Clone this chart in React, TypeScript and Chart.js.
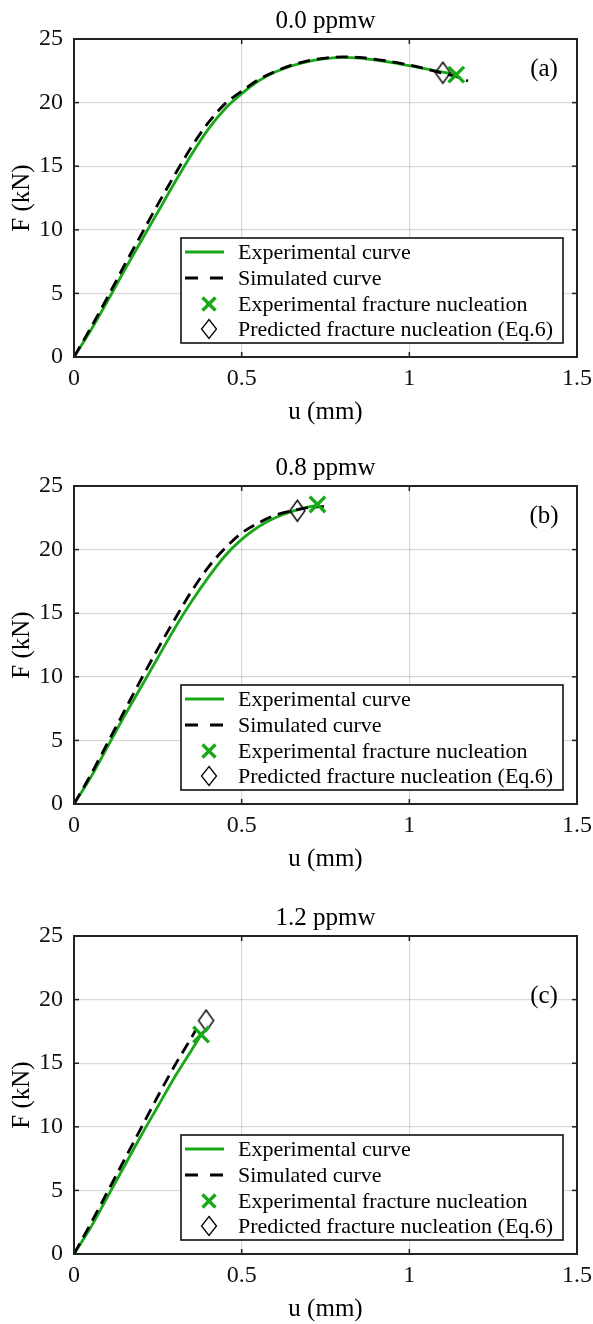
import React, { useEffect, useRef } from 'react';
import { Chart, registerables } from 'chart.js';

Chart.register(...registerables);

const GREEN = 'rgb(24,168,24)';
const FONT = "'Liberation Serif', 'Times New Roman', serif";

const X_TICKS = [0, 0.5, 1, 1.5];
const Y_TICKS = [0, 5, 10, 15, 20, 25];

const TITLES = ['0.0 ppmw', '0.8 ppmw', '1.2 ppmw'];
const LETTERS = ['(a)', '(b)', '(c)'];
const LEGEND_LABELS = [
  'Experimental curve',
  'Simulated curve',
  'Experimental fracture nucleation',
  'Predicted fracture nucleation (Eq.6)',
];

// Panel (a) 0.0 ppmw
const expA_u = [0, 0.05, 0.1, 0.15, 0.2, 0.25, 0.3, 0.35, 0.4, 0.45, 0.5, 0.55, 0.6, 0.65, 0.7, 0.75, 0.8, 0.85, 0.9, 0.95, 1.0, 1.05, 1.1, 1.14];
const expA_F = [0, 2.1, 4.4, 6.8, 9.1, 11.4, 13.7, 15.9, 17.9, 19.5, 20.7, 21.7, 22.4, 22.9, 23.25, 23.45, 23.55, 23.5, 23.35, 23.15, 22.9, 22.65, 22.4, 22.2];
const simA_u = [0, 0.05, 0.1, 0.15, 0.2, 0.25, 0.3, 0.35, 0.4, 0.45, 0.5, 0.55, 0.6, 0.65, 0.7, 0.75, 0.8, 0.85, 0.9, 0.95, 1.0, 1.05, 1.1, 1.15, 1.175];
const simA_F = [0, 2.3, 4.7, 7.2, 9.6, 12.0, 14.3, 16.5, 18.4, 19.9, 20.9, 21.8, 22.45, 22.95, 23.3, 23.5, 23.6, 23.55, 23.4, 23.2, 22.95, 22.65, 22.3, 21.95, 21.7];
const fracExpA = [1.14, 22.2];
const fracPredA = [1.1, 22.35];

// Panel (b) 0.8 ppmw
const expB_u = [0, 0.05, 0.1, 0.15, 0.2, 0.25, 0.3, 0.35, 0.4, 0.45, 0.5, 0.55, 0.6, 0.65, 0.7, 0.73];
const expB_F = [0, 2.1, 4.5, 6.9, 9.2, 11.5, 13.8, 15.9, 17.8, 19.5, 20.8, 21.8, 22.5, 23.0, 23.35, 23.5];
const simB_u = [0, 0.05, 0.1, 0.15, 0.2, 0.25, 0.3, 0.35, 0.4, 0.45, 0.5, 0.55, 0.6, 0.65, 0.7, 0.745];
const simB_F = [0, 2.3, 4.8, 7.3, 9.8, 12.2, 14.5, 16.7, 18.6, 20.1, 21.3, 22.1, 22.7, 23.05, 23.3, 23.4];
const fracExpB = [0.726, 23.55];
const fracPredB = [0.666, 23.05];

// Panel (c) 1.2 ppmw
const expC_u = [0, 0.05, 0.1, 0.15, 0.2, 0.25, 0.3, 0.35, 0.379];
const expC_F = [0, 2.1, 4.5, 6.9, 9.3, 11.6, 13.9, 16.0, 17.25];
const simC_u = [0, 0.05, 0.1, 0.15, 0.2, 0.25, 0.3, 0.35, 0.365];
const simC_F = [0, 2.4, 4.9, 7.4, 9.9, 12.4, 14.8, 17.0, 17.7];
const fracExpC = [0.379, 17.25];
const fracPredC = [0.394, 18.35];

const PANELS = [
  { eu: expA_u, eF: expA_F, su: simA_u, sF: simA_F, fe: fracExpA, fp: fracPredA },
  { eu: expB_u, eF: expB_F, su: simB_u, sF: simB_F, fe: fracExpB, fp: fracPredB },
  { eu: expC_u, eF: expC_F, su: simC_u, sF: simC_F, fe: fracExpC, fp: fracPredC },
];
const LETTER_DY = [30, 30, 60];
const PANEL_TOPS = [0, 447, 897];

const zip = (u: number[], f: number[]) => u.map((x, i) => ({ x, y: f[i] }));

function makeDiamond(w: number, h: number, lw: number): HTMLCanvasElement {
  const c = document.createElement('canvas');
  c.width = w + 4;
  c.height = h + 4;
  const ctx = c.getContext('2d')!;
  ctx.strokeStyle = '#000';
  ctx.lineWidth = lw;
  ctx.beginPath();
  ctx.moveTo(c.width / 2, 2);
  ctx.lineTo(c.width - 2, c.height / 2);
  ctx.lineTo(c.width / 2, c.height - 2);
  ctx.lineTo(2, c.height / 2);
  ctx.closePath();
  ctx.stroke();
  return c;
}

const matlabPlugin = {
  id: 'matlabDecor',
  afterDraw(chart: any, _args: any, opts: any) {
    const { ctx, chartArea: a, scales } = chart;
    const xs = scales.x;
    const ys = scales.y;
    ctx.save();
    const line = (x1: number, y1: number, x2: number, y2: number) => {
      ctx.beginPath();
      ctx.moveTo(x1, y1);
      ctx.lineTo(x2, y2);
      ctx.stroke();
    };
    // inner tick marks
    ctx.strokeStyle = '#222';
    ctx.lineWidth = 1.5;
    const TL = 5;
    X_TICKS.forEach((v) => {
      const px = xs.getPixelForValue(v);
      line(px, a.bottom, px, a.bottom - TL);
      line(px, a.top, px, a.top + TL);
    });
    Y_TICKS.forEach((v) => {
      const py = ys.getPixelForValue(v);
      line(a.left, py, a.left + TL, py);
      line(a.right, py, a.right - TL, py);
    });
    // box
    ctx.lineWidth = 2;
    ctx.strokeRect(a.left, a.top, a.right - a.left, a.bottom - a.top);

    // title centred on the plot area
    ctx.fillStyle = '#000';
    ctx.textAlign = 'center';
    ctx.textBaseline = 'middle';
    ctx.font = `25px ${FONT}`;
    ctx.fillText(opts.title, (a.left + a.right) / 2, 21);

    // panel letter
    ctx.font = `25px ${FONT}`;
    ctx.fillText(opts.letter, a.right - 33, a.top + opts.letterDy);

    // legend
    const x0 = a.left + 107;
    const x1 = a.right - 14;
    const y1 = a.bottom - 14;
    const y0 = y1 - 105;
    ctx.fillStyle = '#fff';
    ctx.fillRect(x0, y0, x1 - x0, y1 - y0);
    ctx.strokeStyle = '#111';
    ctx.lineWidth = 1.6;
    ctx.strokeRect(x0, y0, x1 - x0, y1 - y0);
    const rows = [14, 40, 66, 91];
    const ds = chart.data.datasets;
    const sx0 = x0 + 4;
    const sx1 = x0 + 43;
    const mx = x0 + 28;
    ctx.textAlign = 'left';
    ctx.font = `22px ${FONT}`;
    rows.forEach((dy, i) => {
      const y = y0 + dy;
      const d = ds[i];
      if (i === 0) {
        ctx.strokeStyle = GREEN;
        ctx.lineWidth = 2.8;
        ctx.setLineDash([]);
        line(sx0, y, sx1, y);
      } else if (i === 1) {
        ctx.strokeStyle = '#000';
        ctx.lineWidth = 2.8;
        ctx.setLineDash([13, 12]);
        line(sx0, y, sx1, y);
        ctx.setLineDash([]);
      } else if (i === 2) {
        ctx.strokeStyle = GREEN;
        ctx.lineWidth = 3.4;
        const r = 6.5;
        line(mx - r, y - r, mx + r, y + r);
        line(mx - r, y + r, mx + r, y - r);
      } else {
        ctx.strokeStyle = '#000';
        ctx.lineWidth = 1.3;
        ctx.beginPath();
        ctx.moveTo(mx, y - 9.5);
        ctx.lineTo(mx + 7.5, y);
        ctx.lineTo(mx, y + 9.5);
        ctx.lineTo(mx - 7.5, y);
        ctx.closePath();
        ctx.stroke();
      }
      ctx.fillStyle = '#000';
      ctx.fillText(d.label, x0 + 57, y + 1);
    });
    ctx.restore();
  },
};

function buildConfig(idx: number, diamond: HTMLCanvasElement): any {
  const p = PANELS[idx];
  return {
    type: 'scatter',
    data: {
      datasets: [
        {
          label: LEGEND_LABELS[0],
          data: zip(p.eu, p.eF),
          showLine: true,
          borderColor: GREEN,
          borderWidth: 2.8,
          pointRadius: 0,
          cubicInterpolationMode: 'monotone',
          order: 4,
        },
        {
          label: LEGEND_LABELS[1],
          data: zip(p.su, p.sF),
          showLine: true,
          borderColor: '#000',
          borderDash: [12, 7],
          borderWidth: 2.8,
          pointRadius: 0,
          cubicInterpolationMode: 'monotone',
          order: 3,
        },
        {
          label: LEGEND_LABELS[2],
          data: [{ x: p.fe[0], y: p.fe[1] }],
          showLine: false,
          pointStyle: 'crossRot',
          pointRadius: 11,
          borderColor: GREEN,
          backgroundColor: GREEN,
          pointBorderWidth: 3.4,
          order: 1,
        },
        {
          label: LEGEND_LABELS[3],
          data: [{ x: p.fp[0], y: p.fp[1] }],
          showLine: false,
          pointStyle: diamond,
          pointRadius: 10,
          order: 2,
        },
      ],
    },
    options: {
      responsive: false,
      animation: false,
      devicePixelRatio: 1,
      events: [],
      layout: { padding: { left: 0, right: 16, top: 39, bottom: 21 } },
      plugins: {
        legend: { display: false },
        tooltip: { enabled: false },
        title: { display: false },
        matlabDecor: { letter: LETTERS[idx], letterDy: LETTER_DY[idx], title: TITLES[idx] },
      },
      scales: {
        x: {
          type: 'linear',
          min: 0,
          max: 1.5,
          afterBuildTicks: (s: any) => {
            s.ticks = X_TICKS.map((v) => ({ value: v }));
          },
          afterFit: (s: any) => {
            s.height = 70;
            s.paddingLeft = 0;
            s.paddingRight = 0;
          },
          ticks: {
            color: '#111',
            font: { family: FONT, size: 24 },
            padding: 7,
            maxRotation: 0,
            callback: (v: any) => String(v),
          },
          grid: { color: 'rgba(0,0,0,0.15)', lineWidth: 1.2, drawTicks: false },
          border: { display: false },
          title: {
            display: true,
            text: 'u (mm)',
            color: '#000',
            font: { family: FONT, size: 25 },
            padding: { top: 0, bottom: 0 },
          },
        },
        y: {
          type: 'linear',
          min: 0,
          max: 25,
          afterBuildTicks: (s: any) => {
            s.ticks = Y_TICKS.map((v) => ({ value: v }));
          },
          afterFit: (s: any) => {
            s.width = 74;
            s.paddingTop = 0;
            s.paddingBottom = 0;
          },
          ticks: {
            color: '#111',
            font: { family: FONT, size: 24 },
            padding: 11,
            callback: (v: any) => String(v),
          },
          grid: { color: 'rgba(0,0,0,0.15)', lineWidth: 1.2, drawTicks: false },
          border: { display: false },
          title: {
            display: true,
            text: 'F (kN)',
            color: '#000',
            font: { family: FONT, size: 25 },
            padding: { top: 7, bottom: 0 },
          },
        },
      },
    },
    plugins: [matlabPlugin],
  };
}

function Panel({ idx, top }: { idx: number; top: number }) {
  const ref = useRef<HTMLCanvasElement>(null);
  useEffect(() => {
    const diamond = makeDiamond(15, 21, 1.4);
    const chart = new Chart(ref.current!, buildConfig(idx, diamond));
    return () => chart.destroy();
  }, [idx]);
  return (
    <canvas
      ref={ref}
      width={593}
      height={448}
      style={{ position: 'absolute', left: 0, top, width: 593, height: 448, display: 'block' }}
    />
  );
}

export default function App() {
  return (
    <div
      style={{
        position: 'absolute',
        left: 0,
        top: 0,
        width: 593,
        height: 1324,
        overflow: 'hidden',
        background: '#fff',
      }}
    >
      {PANEL_TOPS.map((t, i) => (
        <Panel key={i} idx={i} top={t} />
      ))}
    </div>
  );
}
